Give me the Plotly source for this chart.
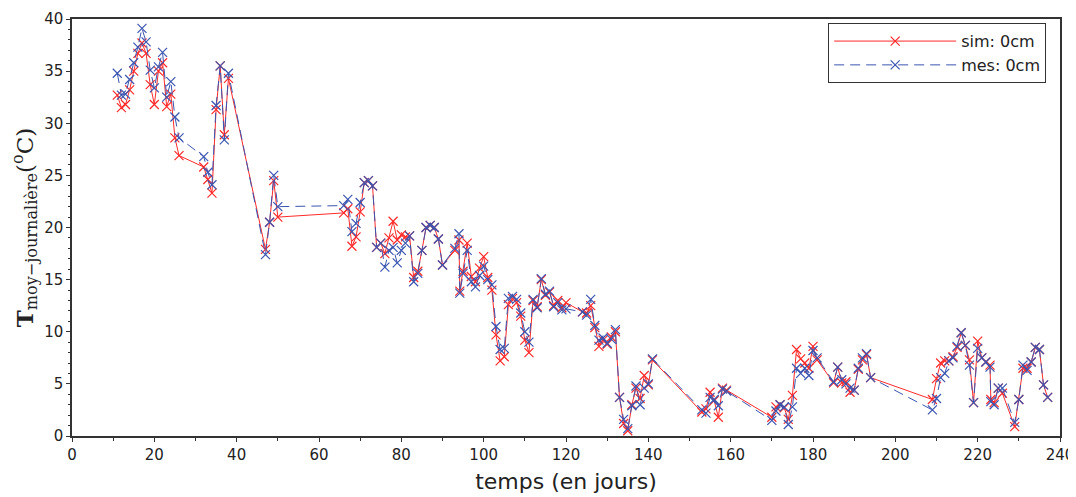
import plotly.graph_objects as go

days = [11, 12, 13, 14, 15, 16, 17, 18, 19, 20, 21, 22, 23, 24, 25, 26,
        32, 33, 34, 35, 36, 37, 38, 47, 48, 49, 50,
        66, 67, 68, 69, 70, 71, 72, 73, 74, 75, 76, 77, 78, 79, 80, 81, 82, 83, 84,
        85, 86, 87, 88, 89, 90, 93, 94, 94.2, 95, 96, 97, 98, 99, 100,
        101, 102, 103, 104, 105, 106, 107, 108, 109, 110, 111, 112, 113, 114, 115,
        116, 117, 118, 119, 120, 124, 125, 126, 127, 128, 129, 130, 131, 132, 133,
        134, 135, 136, 137, 138, 139, 140, 141,
        153, 154, 155, 156, 157, 158, 159,
        170, 171, 172, 173, 174, 175, 176, 177, 178, 179, 180, 181,
        185, 186, 187, 188, 189, 190, 191, 192, 193, 194,
        209, 210, 211, 212, 213, 214, 215, 216, 217, 218, 219, 220, 221, 222, 223,
        223.2, 224, 225, 226, 229, 230, 231, 232, 233, 234, 235, 236, 237]

sim_0cm = [32.7, 31.5, 31.8, 33.2, 35.0, 36.7, 37.7, 36.7, 33.7, 31.8, 35.0, 35.8, 31.6, 32.8, 28.6, 26.9,
           25.8, 24.6, 23.3, 31.3, 35.5, 28.9, 34.3, 17.9, 20.5, 24.5, 21.0,
           21.4, 21.8, 18.2, 19.1, 21.5, 24.3, 24.5, 24.0, 18.1, 18.5, 17.5, 19.0, 20.6, 18.8, 19.3, 19.1, 19.2, 15.2, 15.8,
           17.8, 20.0, 20.2, 20.0, 18.9, 16.4, 17.8, 18.8, 13.9, 15.8, 18.5, 15.3, 14.8, 16.1, 17.2,
           15.2, 14.0, 9.7, 7.2, 7.6, 12.6, 13.2, 12.8, 11.5, 9.2, 8.0, 13.0, 12.4, 15.0, 13.5,
           13.8, 12.5, 13.0, 12.3, 12.8, 11.9, 11.8, 12.5, 10.4, 8.6, 9.2, 8.8, 9.5, 10.0, 3.7,
           1.2, 0.5, 3.0, 4.6, 3.6, 5.8, 4.9, 7.3,
           2.3, 2.6, 4.2, 3.4, 1.8, 4.6, 4.4,
           1.8, 2.8, 3.0, 2.7, 1.6, 3.9, 8.3, 7.4, 7.0, 6.5, 8.6, 7.3,
           5.1, 6.6, 5.1, 5.2, 4.2, 4.4, 6.4, 7.3, 7.8, 5.6,
           3.5, 5.5, 7.0, 7.2, 7.2, 7.6, 8.5, 9.9, 8.7, 7.3, 3.2, 9.1, 7.5, 7.1, 6.8,
           3.5, 3.2, 4.6, 4.1, 0.9, 3.5, 6.5, 6.5, 7.1, 8.5, 8.3, 4.9, 3.7]

mes_0cm = [34.8, 32.7, 32.8, 34.2, 35.8, 37.3, 39.1, 37.8, 35.1, 33.4, 35.4, 36.8, 32.5, 34.0, 30.6, 28.6,
           26.8, 25.3, 24.1, 31.7, 35.5, 28.4, 34.8, 17.4, 20.5, 25.0, 22.0,
           22.1, 22.7, 19.6, 20.4, 22.4, 24.3, 24.5, 24.0, 18.1, 18.5, 16.2, 17.8, 18.1, 16.6, 17.8, 18.5, 19.2, 14.8, 15.6,
           17.8, 20.0, 20.2, 20.0, 18.9, 16.4, 18.0, 19.4, 13.7, 15.6, 17.8, 14.8, 14.3, 15.4, 16.3,
           15.0, 14.5, 10.5, 8.3, 8.4, 13.2, 13.4, 13.1, 11.8, 10.0, 9.0, 13.1, 12.3, 15.1, 13.6,
           13.9, 12.4, 12.8, 12.1, 12.2, 11.9, 11.6, 13.1, 10.6, 9.2, 9.4, 8.9, 9.3, 10.2, 3.7,
           1.6, 0.7, 2.9, 4.8, 3.0, 4.6, 5.0, 7.4,
           2.5, 2.2, 3.7, 3.5, 2.9, 4.5, 4.3,
           1.5, 2.4, 3.0, 2.8, 1.1, 2.8, 6.5, 6.0, 6.5, 5.8, 8.2, 7.5,
           5.2, 6.6, 5.4, 5.0, 4.6, 4.4, 6.5, 7.5, 7.9, 5.6,
           2.5, 3.6, 5.6, 6.0, 7.2, 7.5, 8.6, 9.9, 8.7, 6.8, 3.2, 8.4, 7.5, 7.1, 6.6,
           3.3, 3.0, 4.6, 4.6, 1.3, 3.5, 6.8, 6.3, 7.1, 8.5, 8.3, 4.9, 3.7]

assert len(days) == len(sim_0cm) == len(mes_0cm)

x_ticks = [0, 20, 40, 60, 80, 100, 120, 140, 160, 180, 200, 220, 240]
y_ticks = [0, 5, 10, 15, 20, 25, 30, 35, 40]

RED = "#ff2a2a"
BLUE = "#3a55b0"

fig = go.Figure()
fig.add_trace(go.Scatter(
    x=days, y=sim_0cm, mode="lines+markers", name="sim: 0cm",
    line=dict(color=RED, width=1),
    marker=dict(symbol="x-thin-open", size=9, color=RED, line=dict(color=RED, width=1.2)),
))
fig.add_trace(go.Scatter(
    x=days, y=mes_0cm, mode="lines+markers", name="mes: 0cm",
    line=dict(color=BLUE, width=1, dash="10px,6px"),
    marker=dict(symbol="x-thin-open", size=9, color=BLUE, line=dict(color=BLUE, width=1.2)),
))

axis_common = dict(
    showline=True, linecolor="#333333", linewidth=1.5, mirror=True,
    showgrid=False, zeroline=False, automargin=False,
    ticks="outside", ticklen=4, tickcolor="#333333",
    tickfont=dict(family="DejaVu Sans", size=15, color="#222222"),
)

# the page body has an 8px margin, so the figure is sized to fit the window from (8, 8)
fig.update_layout(
    width=1068, height=489,
    margin=dict(l=64, r=16, t=11, b=61, autoexpand=False),
    paper_bgcolor="white", plot_bgcolor="white",
    showlegend=True,
    legend=dict(
        x=0.986, y=0.99, xanchor="right", yanchor="top",
        bgcolor="white", bordercolor="#333333", borderwidth=1,
        font=dict(family="DejaVu Sans", size=16, color="#222222"),
        itemwidth=122,
    ),
    xaxis=dict(
        range=[0, 240], tickvals=x_ticks, ticktext=[str(v) for v in x_ticks],
        minor=dict(ticks="outside", dtick=10, ticklen=3, tickcolor="#333333"),
        title=dict(text="temps (en jours)", font=dict(family="DejaVu Sans", size=22, color="#222222"), standoff=11),
        **axis_common,
    ),
    yaxis=dict(
        range=[0, 40], tickvals=y_ticks, ticktext=[str(v) for v in y_ticks],
        minor=dict(ticks="outside", dtick=1, ticklen=2, tickcolor="#333333"),
        title=dict(text="<b>T</b><sub>moy−journalière</sub>(<sup>o</sup>C)",
                   font=dict(family="DejaVu Serif", size=23, color="#222222"), standoff=14),
        **axis_common,
    ),
)

fig.write_html("out.html")
